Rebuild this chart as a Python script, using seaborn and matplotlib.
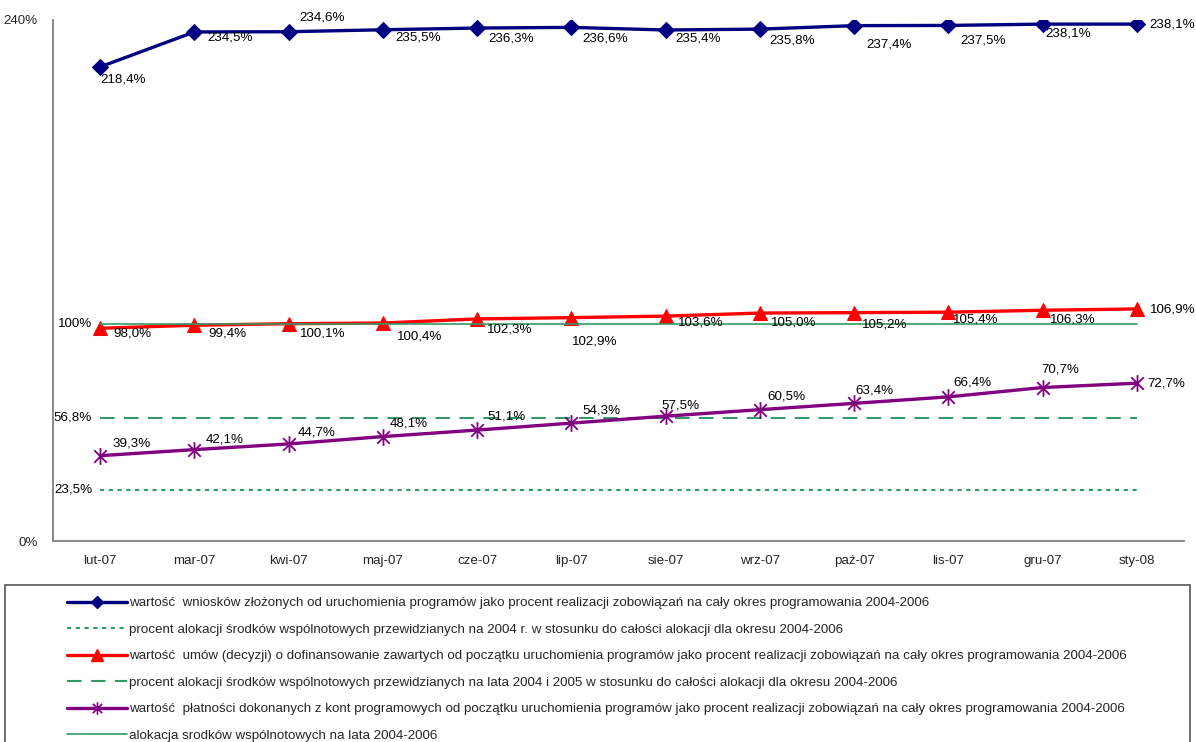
import numpy as np
import pandas as pd
import matplotlib
matplotlib.use("Agg")
import matplotlib.pyplot as plt
import seaborn as sns
from matplotlib.lines import Line2D
from matplotlib.patches import Rectangle
from matplotlib.path import Path

# ---------------- data ----------------
months = ["lut-07", "mar-07", "kwi-07", "maj-07", "cze-07", "lip-07",
          "sie-07", "wrz-07", "paź-07", "lis-07", "gru-07", "sty-08"]
wnioski = [218.4, 234.5, 234.6, 235.5, 236.3, 236.6, 235.4, 235.8, 237.4, 237.5, 238.1, 238.1]
umowy = [98.0, 99.4, 100.1, 100.4, 102.3, 102.9, 103.6, 105.0, 105.2, 105.4, 106.3, 106.9]
platnosci = [39.3, 42.1, 44.7, 48.1, 51.1, 54.3, 57.5, 60.5, 63.4, 66.4, 70.7, 72.7]
alok_2004 = 23.5
alok_2004_2005 = 56.8
alok_2004_2006 = 100.0

legend_labels = [
    "wartość  wniosków złożonych od uruchomienia programów jako procent realizacji zobowiązań na cały okres programowania 2004-2006",
    "procent alokacji środków wspólnotowych przewidzianych na 2004 r. w stosunku do całości alokacji dla okresu 2004-2006",
    "wartość  umów (decyzji) o dofinansowanie zawartych od początku uruchomienia programów jako procent realizacji zobowiązań na cały okres programowania 2004-2006",
    "procent alokacji środków wspólnotowych przewidzianych na lata 2004 i 2005 w stosunku do całości alokacji dla okresu 2004-2006",
    "wartość  płatności dokonanych z kont programowych od początku uruchomienia programów jako procent realizacji zobowiązań na cały okres programowania 2004-2006",
    "alokacja srodków wspólnotowych na lata 2004-2006",
]

# label offsets (pixels) -- styling only
off_blue = [(0, -13), (13, -6), (11, 14), (12, -8), (11, -10), (11, -11), (10, -9),
            (10, -11), (12, -19), (12, -15), (3, -9), (12, 0)]
off_red = [(13, -5), (14, -8), (11, -10), (14, -13), (10, -11), (1, -24), (12, -6),
           (11, -9), (8, -12), (5, -7), (7, -9), (13, -1)]
off_purple = [(12, 12), (11, 10), (9, 11), (7, 13), (10, 14), (11, 13), (-4, 11),
              (7, 13), (1, 13), (5, 14), (-1, 18), (10, 0)]

def pl(v):
    return f"{v:.1f}".replace(".", ",") + "%"

# ---------------- figure ----------------
sns.set_style("white")
plt.rcParams["font.family"] = ["Liberation Sans", "DejaVu Sans"]
FS = 9.6
plt.rcParams["font.size"] = FS

W, H = 1196, 742
fig = plt.figure(figsize=(W / 100, H / 100), dpi=100)
ax = fig.add_axes([53 / W, 1 - 541 / H, (1184 - 53) / W, (541 - 20) / H])

x = np.arange(len(months))
df = pd.DataFrame({"x": x, "wnioski": wnioski, "umowy": umowy, "platnosci": platnosci})

BLUE, RED, PURPLE, GREEN = "#000080", "#FF0000", "#800080", "#339966"

# asterisk marker: vertical bar + X
ASTER = Path([(0, -1), (0, 1), (-0.75, -0.75), (0.75, 0.75), (-0.75, 0.75), (0.75, -0.75)],
             [Path.MOVETO, Path.LINETO, Path.MOVETO, Path.LINETO, Path.MOVETO, Path.LINETO])

# reference lines (drawn first)
ax.plot(x, [alok_2004] * len(x), color=GREEN, lw=1.5, dashes=(2, 2.2), zorder=2)
ax.plot(x, [alok_2004_2005] * len(x), color=GREEN, lw=1.5, dashes=(7, 4.5), zorder=2)
ax.plot(x, [alok_2004_2006] * len(x), color=GREEN, lw=1.2, zorder=4)

sns.lineplot(data=df, x="x", y="wnioski", ax=ax, color=BLUE, lw=2.4, marker="D",
             markersize=8, markeredgecolor=BLUE, zorder=5)
sns.lineplot(data=df, x="x", y="umowy", ax=ax, color=RED, lw=2.4, marker="^",
             markersize=10, markeredgecolor=RED, zorder=3)
sns.lineplot(data=df, x="x", y="platnosci", ax=ax, color=PURPLE, lw=2.4, marker=ASTER,
             markersize=12, markeredgecolor=PURPLE, markerfacecolor="none",
             markeredgewidth=1.3, zorder=5)

def labels(vals, offs):
    for xi, v, (dx, dy) in zip(x, vals, offs):
        ax.annotate(pl(v), (xi, v), xytext=(dx, dy), textcoords="offset pixels",
                    ha="left", va="center", fontsize=FS, color="black", zorder=6,
                    annotation_clip=False)

labels(wnioski, off_blue)
labels(umowy, off_red)
labels(platnosci, off_purple)

for v, txt in [(alok_2004, "23,5%"), (alok_2004_2005, "56,8%"), (alok_2004_2006, "100%")]:
    ax.annotate(txt, (x[0], v), xytext=(-8, 0), textcoords="offset pixels",
                ha="right", va="center", fontsize=FS, color="black")

# axes styling
ax.set_xlim(-0.5, len(months) - 0.5)
ax.set_ylim(0, 240)
ax.set_yticks([0, 240])
ax.set_yticklabels(["0%", "240%"])
ax.set_xticks(np.arange(-0.5, len(months), 1.0))
ax.set_xticklabels([])
ax.set_xticks(x, minor=True)
ax.set_xticklabels(months, minor=True)
ax.tick_params(axis="x", which="major", length=5, width=1.2, color="#808080", direction="out")
ax.tick_params(axis="x", which="minor", length=0, pad=10, labelsize=FS)
ax.tick_params(axis="y", length=5, width=1.2, color="#808080", direction="out", labelsize=FS, pad=6)
ax.set_xlabel("")
ax.set_ylabel("")
for s in ["top", "right"]:
    ax.spines[s].set_visible(False)
for s in ["left", "bottom"]:
    ax.spines[s].set_color("#808080")
    ax.spines[s].set_linewidth(1.3)
ax.grid(False)

# legend
handles = [
    Line2D([], [], color=BLUE, lw=2.4, marker="D", markersize=6),
    Line2D([], [], color=GREEN, lw=1.5, dashes=(2, 2.2)),
    Line2D([], [], color=RED, lw=2.4, marker="^", markersize=8),
    Line2D([], [], color=GREEN, lw=1.5, dashes=(7, 4.5)),
    Line2D([], [], color=PURPLE, lw=2.4, marker=ASTER, markersize=9, markeredgewidth=1.2,
           markerfacecolor="none"),
    Line2D([], [], color=GREEN, lw=1.2),
]
fig.legend(handles, legend_labels, loc="upper left",
           bbox_to_anchor=(67 / W, 1 - 597 / H), frameon=False, fontsize=FS,
           handlelength=4.5, handletextpad=0.15, labelspacing=1.06,
           borderpad=0, borderaxespad=0)
fig.patches.append(Rectangle((5 / W, -0.05), (1190 - 5) / W, 0.05 + (742 - 585) / H,
                             transform=fig.transFigure, fill=False,
                             edgecolor="#555555", lw=1.2))

fig.savefig("out.png", dpi=100)
